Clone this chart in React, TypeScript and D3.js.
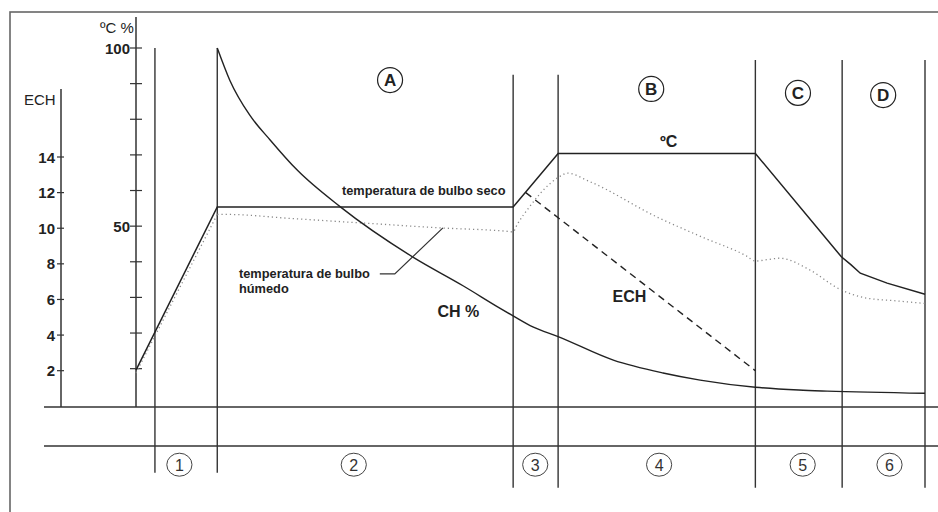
import React from "react";
import * as d3 from "d3";

// ---- data (time in % of process, temperature/humidity in °C / %) ----
const timeDry = [0, 10.3, 47.8, 53.5, 78.5, 89.4, 90.6, 91.8, 95.2, 100];
const dryBulb = [9.6, 55.4, 55.4, 70.4, 70.4, 41.4, 39.2, 36.8, 34.0, 30.9];

const timeWet = [0, 10.3, 11.3, 20, 30, 38.7, 46.8, 47.8, 48.3, 49.9, 52.5, 54.0, 54.6, 57.5, 66.0, 72.0, 77.4, 78.5, 80.0, 81.6, 85.4, 89.2, 92.6, 96.0, 100];
const wetBulb = [8.8, 53.3, 53.3, 52.1, 50.7, 49.5, 48.6, 48.4, 50.4, 55.5, 62.0, 64.3, 64.9, 62.5, 52.6, 46.7, 41.6, 40.2, 40.6, 41.0, 37.7, 32.3, 29.8, 29.1, 28.3];

const timeCH = [10.3, 11.9, 14.4, 17.0, 20.4, 25.9, 35.1, 41.5, 46.1, 47.8, 50.3, 53.5, 60.5, 66.8, 71.5, 78.5, 84.0, 87.6, 100];
const chPct = [100, 90.9, 81.2, 74.2, 65.8, 55.4, 41.3, 33.2, 27.0, 24.8, 21.7, 19.0, 12.4, 8.8, 6.8, 4.8, 4.0, 3.7, 3.1];

const timeECH = [49.4, 78.5];
const echVals = [12, 2];

const stageBounds = [2.4, 10.3, 47.8, 53.5, 78.5, 89.5, 100];
const stageTop = [100, 100, 92.5, 92.5, 96.6, 96.6, 96.6];
const stageNames = ["1", "2", "3", "4", "5", "6"];
const stageLabelT = [5.5, 27.6, 50.6, 66.3, 84.5, 95.5];

const phaseNames = ["A", "B", "C", "D"];
const phaseT = [32.2, 65.3, 83.9, 94.7];
const phaseY = [91.0, 88.5, 87.4, 86.8];

const echTicks = [2, 4, 6, 8, 10, 12, 14];
const tempTicks = [10, 20, 30, 40, 50, 60, 70, 80, 90, 100];
const tempLabels = [50, 100];

const FONT = "'Liberation Sans', Arial, Helvetica, sans-serif";

export default function App() {
  const W = 938, H = 512;
  const x = d3.scaleLinear().domain([0, 100]).range([136, 925]);
  const yT = d3.scaleLinear().domain([0, 100]).range([404.3, 48]);
  const yE = d3.scaleLinear().domain([0, 14]).range([406.3, 157]);
  const baseY = 407;
  const lowY = 446;

  const dryPts: [number, number][] = timeDry.map((t, i) => [t, dryBulb[i]]);
  const wetPts: [number, number][] = timeWet.map((t, i) => [t, wetBulb[i]]);
  const chPts: [number, number][] = timeCH.map((t, i) => [t, chPct[i]]);
  const echPts: [number, number][] = timeECH.map((t, i) => [t, echVals[i]]);

  const lineT = d3.line<[number, number]>().x(d => x(d[0])).y(d => yT(d[1]));
  const lineTM = d3.line<[number, number]>().x(d => x(d[0])).y(d => yT(d[1])).curve(d3.curveMonotoneX);
  const lineE = d3.line<[number, number]>().x(d => x(d[0])).y(d => yE(d[1]));

  const ink = "#222";

  return (
    <svg width={W} height={H} style={{ position: "absolute", left: 0, top: 0, display: "block", background: "#fff" }} fontFamily={FONT}>
      {/* frame */}
      <rect x={10} y={12} width={960} height={540} fill="none" stroke="#666" strokeWidth={1.6} />

      {/* horizontal base lines */}
      <line x1={44} x2={W} y1={baseY} y2={baseY} stroke="#333" strokeWidth={1.6} />
      <line x1={44} x2={W} y1={lowY} y2={lowY} stroke="#333" strokeWidth={1.6} />

      {/* ECH axis */}
      <line x1={61} x2={61} y1={89} y2={baseY} stroke="#333" strokeWidth={1.5} />
      {echTicks.map(v => (
        <g key={"e" + v}>
          <line x1={57} x2={64} y1={yE(v)} y2={yE(v)} stroke="#333" strokeWidth={1.2} />
          <text x={55} y={yE(v) + 5.5} textAnchor="end" fontSize={15} fontWeight="bold" fill={ink}>{v}</text>
        </g>
      ))}
      <text x={24} y={105} fontSize={15} fill={ink}>ECH</text>

      {/* temperature / % axis */}
      <line x1={136} x2={136} y1={17} y2={baseY} stroke="#333" strokeWidth={1.5} />
      {tempTicks.map(v => (
        <line key={"t" + v} x1={130} x2={142} y1={yT(v)} y2={yT(v)} stroke="#333" strokeWidth={1.2} />
      ))}
      {tempLabels.map(v => (
        <text key={"tl" + v} x={130} y={yT(v) + 5.5} textAnchor="end" fontSize={15} fontWeight="bold" fill={ink}>{v}</text>
      ))}
      <text x={100} y={33} fontSize={15} fill={ink}>ºC %</text>

      {/* stage boundaries */}
      {stageBounds.map((t, i) => (
        <line key={"s" + i} x1={x(t)} x2={x(t)} y1={yT(stageTop[i])} y2={i < 2 ? 472.7 : 487.7} stroke="#333" strokeWidth={1.4} />
      ))}

      {/* stage numbers */}
      {stageNames.map((n, i) => (
        <g key={"n" + n}>
          <ellipse cx={x(stageLabelT[i])} cy={464.7} rx={12.6} ry={11.5} fill="#fff" stroke="#444" strokeWidth={1} />
          <text x={x(stageLabelT[i])} y={470.5} textAnchor="middle" fontSize={16} fill="#333">{n}</text>
        </g>
      ))}

      {/* phase letters */}
      {phaseNames.map((n, i) => (
        <g key={"p" + n}>
          <circle cx={x(phaseT[i])} cy={yT(phaseY[i])} r={12.5} fill="#fff" stroke={ink} strokeWidth={1.2} />
          <text x={x(phaseT[i])} y={yT(phaseY[i]) + 6} textAnchor="middle" fontSize={17} fontWeight="bold" fill={ink}>{n}</text>
        </g>
      ))}

      {/* curves */}
      <path d={lineT(wetPts.slice(0, 2)) || ""} fill="none" stroke="#888" strokeWidth={1.3} strokeDasharray="1.2,3" />
      <path d={lineTM(wetPts.slice(1)) || ""} fill="none" stroke="#888" strokeWidth={1.3} strokeDasharray="1.2,3" />
      <path d={lineTM(chPts) || ""} fill="none" stroke={ink} strokeWidth={1.4} />
      <path d={lineT(dryPts) || ""} fill="none" stroke={ink} strokeWidth={1.5} />
      <path d={lineE(echPts) || ""} fill="none" stroke={ink} strokeWidth={1.4} strokeDasharray="7,5" />

      {/* annotations */}
      <text x={x(26.1)} y={yT(58.7)} fontSize={12.8} fontWeight="bold" fill={ink}>temperatura de bulbo seco</text>
      <text x={x(13.05)} y={yT(35.4)} fontSize={12.8} fontWeight="bold" fill={ink}>temperatura de bulbo</text>
      <text x={x(13.05)} y={yT(31.3)} fontSize={12.8} fontWeight="bold" fill={ink}>húmedo</text>
      <path d={lineT([[30.9, 36.6], [32.8, 36.6], [38.9, 49.5]]) || ""} fill="none" stroke="#333" strokeWidth={1.2} />
      <text x={x(38.2)} y={yT(24.4)} fontSize={16} fontWeight="bold" fill={ink}>CH %</text>
      <text x={x(60.4)} y={yT(28.8)} fontSize={16} fontWeight="bold" fill={ink}>ECH</text>
      <text x={x(66.4)} y={yT(72.1)} fontSize={16} fontWeight="bold" fill={ink}>ºC</text>
    </svg>
  );
}
